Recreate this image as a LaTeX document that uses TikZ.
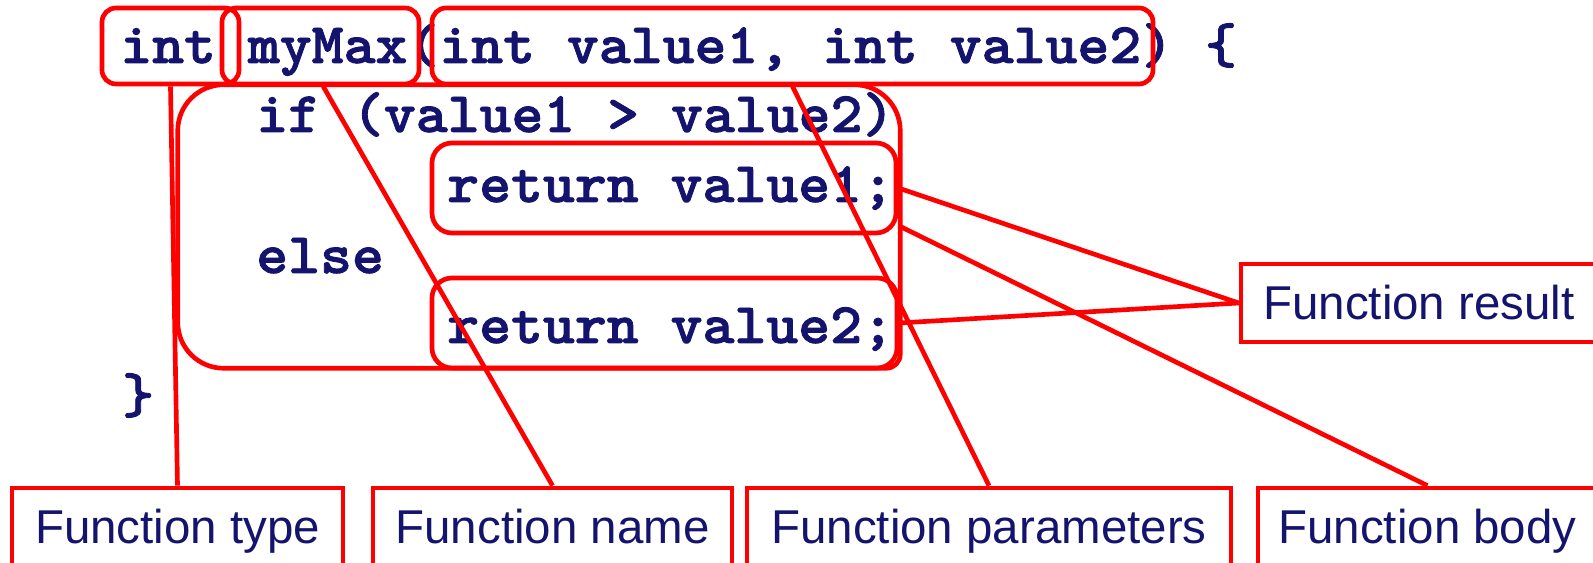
\documentclass[tikz,border=0pt]{standalone}
\usepackage{fontspec}
\usetikzlibrary{calc}
\newfontfamily\codefont{lmmonolt10-bold.otf}[FakeStretch=1.06, FakeBold=1.5]
\newfontfamily\lblfont{Liberation Sans}
\definecolor{navy}{RGB}{20,20,110}
\definecolor{boxred}{RGB}{255,0,0}
\newlength\pxu
\setlength\pxu{0.75pt}
\tikzset{
  redline/.style={draw=boxred, line width=3.5pt},
  codebox/.style={redline, rounded corners=10.5pt, inner sep=0pt, minimum height=76\pxu},
  retbox/.style={redline, rounded corners=15pt, inner sep=0pt, minimum height=90\pxu},
  code/.style={anchor=base west, inner sep=0pt, text=navy,
    font=\codefont\fontsize{43pt}{43pt}\selectfont},
  lbl/.style={redline, inner sep=0pt, minimum height=78\pxu, text=navy,
    text height=25.5pt, text depth=0pt,
    font=\lblfont\fontsize{35.6pt}{36pt}\selectfont},
  conn/.style={draw=boxred, line width=3.5pt}
}
\begin{document}
\begin{tikzpicture}[x=0.75pt,y=0.75pt]
\useasboundingbox (0,0) rectangle (1593,563);
\clip (0,0) rectangle (1593,563);
% code text
\node[code] (l1) at (120,500) {int myMax(int value1, int value2) \{};
\node[code] (l2) at (256,431) {if (value1 > value2)};
\node[code] (l3) at (447,361) {return value1;};
\node[code] (l4) at (256,290) {else};
\node[code] (l5) at (447,220) {return value2;};
\node[code] (l6) at (122,150) {\}};
% code boxes
\node[codebox, minimum width=137\pxu] (intbox) at (170.5,517) {};
\node[codebox, minimum width=197\pxu] (namebox) at (320.5,517) {};
\node[codebox, minimum width=721\pxu] (parbox) at (792.5,517) {};
\node[retbox, minimum width=464\pxu] (rv1box) at (664,375) {};
\node[retbox, minimum width=465\pxu] (rv2box) at (664.5,240) {};
\node[inner sep=0pt, minimum width=722\pxu, minimum height=283\pxu] (body) at (539,336.5) {};
\draw[redline] ([xshift=34.5pt]body.north west) -- ([xshift=-34.5pt]body.north east)
  arc[start angle=90,end angle=0,radius=34.5pt] -- ([yshift=10.5pt]body.south east)
  arc[start angle=0,end angle=-90,radius=10.5pt] -- ([xshift=34.5pt]body.south west)
  arc[start angle=270,end angle=180,radius=34.5pt] -- ([yshift=-34.5pt]body.north west)
  arc[start angle=180,end angle=90,radius=34.5pt] -- cycle;
% labels
\node[lbl, minimum width=356\pxu] (lres) at (1419,260) {Function result};
\node[lbl, minimum width=331\pxu] (ltype) at (177.5,36) {Function type};
\node[lbl, minimum width=359\pxu] (lname) at (552.5,36) {Function name};
\node[lbl, minimum width=484\pxu] (lparams) at (989,36) {Function parameters};
\node[lbl, minimum width=339\pxu] (lbody) at (1427.5,36) {Function body};
% connectors
\draw[conn] (intbox.south) -- (ltype.north);
\draw[conn] ([xshift=2pt]namebox.south) -- (lname.north);
\draw[conn] (parbox.south) -- (lparams.north);
\draw[conn] (body.east) -- (lbody.north);
\draw[conn] (rv1box.east) -- (lres.west);
\draw[conn] (rv2box.east) -- (lres.west);
\end{tikzpicture}
\end{document}
